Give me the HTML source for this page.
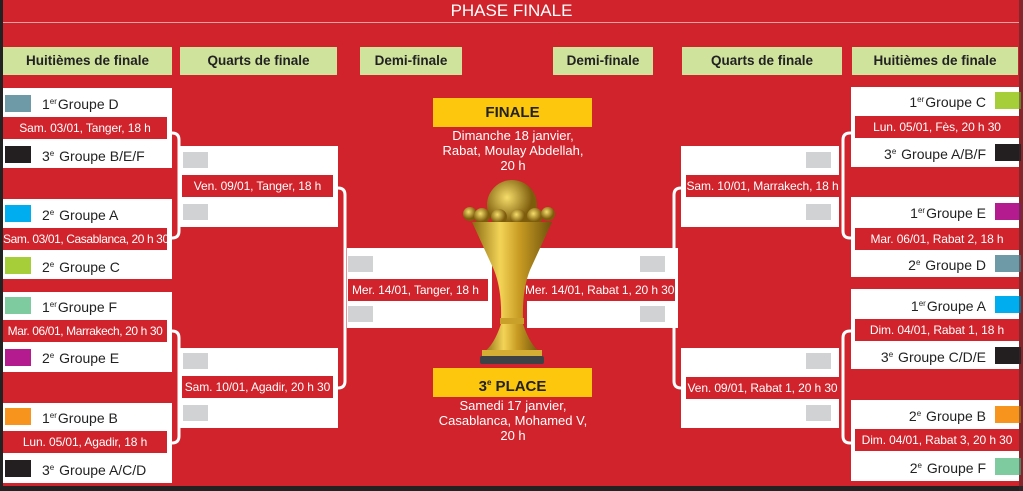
<!DOCTYPE html>
<html><head><meta charset="utf-8"><style>
*{margin:0;padding:0;box-sizing:border-box}
body{width:1023px;height:491px;background:#d0232b;position:relative;overflow:hidden;font-family:"Liberation Sans",sans-serif}
div{position:absolute}
.w{background:#fff}
.b{background:#d0232b;color:#fff;font-size:12px;letter-spacing:-0.1px;text-align:center;line-height:22px;white-space:nowrap;overflow:hidden}
.h{background:#cfe39d;color:#222;font-weight:bold;font-size:13.5px;text-align:center;line-height:28px}
.sq{width:26px;height:17px}
.g{background:#d1d2d4;width:25px;height:16px}
.t{font-size:14px;color:#222;line-height:18px;white-space:nowrap}
.t sup{font-size:8px;vertical-align:5px;margin-right:1px}
.y{background:#fdc70e;color:#222;font-weight:bold;font-size:15px;text-align:center;line-height:29px}
.c{color:#fff;font-size:13px;text-align:center;line-height:15px}
</style></head><body>
<div style="left:0;top:0;width:3px;height:491px;background:#222"></div>
<div style="left:0;top:486px;width:1023px;height:5px;background:#222"></div>
<div style="left:3px;top:22px;width:1016px;height:1px;background:#e8a0a0"></div>
<div style="left:0;top:1px;width:1023px;text-align:center;color:#fff;font-size:17px;line-height:20px">PHASE FINALE</div>

<div class="h" style="left:3px;top:47px;width:169px">Huitièmes de finale</div>
<div class="h" style="left:180px;top:47px;width:157px">Quarts de finale</div>
<div class="h" style="left:360px;top:47px;width:102px">Demi-finale</div>
<div class="h" style="left:553px;top:47px;width:100px">Demi-finale</div>
<div class="h" style="left:682px;top:47px;width:160px">Quarts de finale</div>
<div class="h" style="left:852px;top:47px;width:166px">Huitièmes de finale</div>

<svg style="position:absolute;left:0;top:0" width="1023" height="491" fill="none" stroke="#fff" stroke-width="3">
<path d="M167 133 H172 Q179 133 179 140 V231 Q179 238 172 238 H167"/>
<path d="M167 331 H172 Q179 331 179 338 V436 Q179 443 172 443 H167"/>
<path d="M333 188 H338 Q345 188 345 195 V381 Q345 388 338 388 H333"/>
<path d="M855 133 H850 Q843 133 843 140 V231 Q843 238 850 238 H855"/>
<path d="M855 331 H850 Q843 331 843 338 V436 Q843 443 850 443 H855"/>
<path d="M686 188 H681 Q674 188 674 195 V381 Q674 388 681 388 H686"/>
</svg>

<!-- Left R16 -->
<div class="w" style="left:3px;top:88px;width:169px;height:80px"></div>
<div class="sq" style="left:5px;top:95px;background:#6e9aa8"></div>
<div class="t" style="left:42px;top:93px">1<sup>er</sup>Groupe D</div>
<div class="b" style="left:3px;top:117px;width:164px">Sam. 03/01, Tanger, 18 h</div>
<div class="sq" style="left:5px;top:146px;background:#231f20"></div>
<div class="t" style="left:42px;top:145px">3<sup>e</sup> Groupe B/E/F</div>

<div class="w" style="left:3px;top:199px;width:169px;height:80px"></div>
<div class="sq" style="left:5px;top:205px;background:#00aeef"></div>
<div class="t" style="left:42px;top:204px">2<sup>e</sup> Groupe A</div>
<div class="b" style="left:3px;top:228px;width:164px;letter-spacing:-0.4px">Sam. 03/01, Casablanca, 20 h 30</div>
<div class="sq" style="left:5px;top:257px;background:#a6ce39"></div>
<div class="t" style="left:42px;top:256px">2<sup>e</sup> Groupe C</div>

<div class="w" style="left:3px;top:292px;width:169px;height:80px"></div>
<div class="sq" style="left:5px;top:297px;background:#7fcba0"></div>
<div class="t" style="left:42px;top:296px">1<sup>er</sup>Groupe F</div>
<div class="b" style="left:3px;top:320px;width:164px;letter-spacing:-0.4px">Mar. 06/01, Marrakech, 20 h 30</div>
<div class="sq" style="left:5px;top:349px;background:#b31b8e"></div>
<div class="t" style="left:42px;top:347px">2<sup>e</sup> Groupe E</div>

<div class="w" style="left:3px;top:403px;width:169px;height:80px"></div>
<div class="sq" style="left:5px;top:408px;background:#f7941d"></div>
<div class="t" style="left:42px;top:407px">1<sup>er</sup>Groupe B</div>
<div class="b" style="left:3px;top:431px;width:164px">Lun. 05/01, Agadir, 18 h</div>
<div class="sq" style="left:5px;top:460px;background:#231f20"></div>
<div class="t" style="left:42px;top:459px">3<sup>e</sup> Groupe A/C/D</div>

<!-- Left QF -->
<div class="w" style="left:180px;top:146px;width:158px;height:81px"></div>
<div class="g" style="left:183px;top:152px"></div>
<div class="b" style="left:182px;top:175px;width:151px">Ven. 09/01, Tanger, 18 h</div>
<div class="g" style="left:183px;top:204px"></div>
<div class="w" style="left:180px;top:348px;width:158px;height:80px"></div>
<div class="g" style="left:183px;top:353px"></div>
<div class="b" style="left:182px;top:376px;width:151px">Sam. 10/01, Agadir, 20 h 30</div>
<div class="g" style="left:183px;top:405px"></div>

<!-- SF -->
<div class="w" style="left:347px;top:248px;width:145px;height:80px"></div>
<div class="g" style="left:348px;top:256px"></div>
<div class="b" style="left:348px;top:279px;width:140px;text-align:left;padding-left:4px">Mer. 14/01, Tanger, 18 h</div>
<div class="g" style="left:348px;top:306px"></div>
<div class="w" style="left:527px;top:248px;width:151px;height:80px"></div>
<div class="g" style="left:640px;top:256px"></div>
<div class="b" style="left:525px;top:279px;width:150px;text-align:right;padding-right:4px">Mer. 14/01, Rabat 1, 20 h 30</div>
<div class="g" style="left:640px;top:306px"></div>

<!-- Right QF -->
<div class="w" style="left:681px;top:146px;width:158px;height:81px"></div>
<div class="g" style="left:806px;top:152px"></div>
<div class="b" style="left:686px;top:175px;width:153px">Sam. 10/01, Marrakech, 18 h</div>
<div class="g" style="left:806px;top:204px"></div>
<div class="w" style="left:681px;top:348px;width:158px;height:80px"></div>
<div class="g" style="left:806px;top:353px"></div>
<div class="b" style="left:686px;top:377px;width:153px">Ven. 09/01, Rabat 1, 20 h 30</div>
<div class="g" style="left:806px;top:405px"></div>

<!-- Right R16 -->
<div class="w" style="left:851px;top:87px;width:168px;height:80px"></div>
<div class="sq" style="left:995px;top:92px;background:#a6ce39"></div>
<div class="t" style="right:37px;top:91px">1<sup>er</sup>Groupe C</div>
<div class="b" style="left:855px;top:116px;width:164px">Lun. 05/01, Fès, 20 h 30</div>
<div class="sq" style="left:995px;top:144px;background:#231f20"></div>
<div class="t" style="right:37px;top:143px">3<sup>e</sup> Groupe A/B/F</div>

<div class="w" style="left:851px;top:197px;width:168px;height:80px"></div>
<div class="sq" style="left:995px;top:203px;background:#b31b8e"></div>
<div class="t" style="right:37px;top:202px">1<sup>er</sup>Groupe E</div>
<div class="b" style="left:855px;top:228px;width:164px">Mar. 06/01, Rabat 2, 18 h</div>
<div class="sq" style="left:995px;top:255px;background:#6e9aa8"></div>
<div class="t" style="right:37px;top:254px">2<sup>e</sup> Groupe D</div>

<div class="w" style="left:851px;top:289px;width:168px;height:80px"></div>
<div class="sq" style="left:995px;top:296px;background:#00aeef"></div>
<div class="t" style="right:37px;top:295px">1<sup>er</sup>Groupe A</div>
<div class="b" style="left:855px;top:319px;width:164px">Dim. 04/01, Rabat 1, 18 h</div>
<div class="sq" style="left:995px;top:347px;background:#231f20"></div>
<div class="t" style="right:37px;top:346px">3<sup>e</sup> Groupe C/D/E</div>

<div class="w" style="left:851px;top:400px;width:168px;height:81px"></div>
<div class="sq" style="left:995px;top:406px;background:#f7941d"></div>
<div class="t" style="right:37px;top:405px">2<sup>e</sup> Groupe B</div>
<div class="b" style="left:855px;top:429px;width:164px">Dim. 04/01, Rabat 3, 20 h 30</div>
<div class="sq" style="left:995px;top:458px;background:#7fcba0"></div>
<div class="t" style="right:37px;top:457px">2<sup>e</sup> Groupe F</div>
<div style="left:1019px;top:0;width:4px;height:491px;background:#3a2a2a;opacity:.5"></div>

<!-- Finale -->
<div class="y" style="left:433px;top:98px;width:159px;height:29px">FINALE</div>
<div class="c" style="left:413px;top:128px;width:200px">Dimanche 18 janvier,<br>Rabat, Moulay Abdellah,<br>20 h</div>
<div class="y" style="left:433px;top:368px;width:159px;height:29px">3<sup style="font-size:8px">e</sup> PLACE</div>
<div class="c" style="left:403px;top:398px;width:220px">Samedi 17 janvier,<br>Casablanca, Mohamed V,<br>20 h</div>

<svg style="position:absolute;left:460px;top:170px" width="100" height="195" viewBox="0 0 100 195">
<defs><linearGradient id="gd" x1="0" x2="1"><stop offset="0" stop-color="#8a6a10"/><stop offset=".35" stop-color="#f3d457"/><stop offset=".6" stop-color="#c79a22"/><stop offset="1" stop-color="#6e520c"/></linearGradient>
<radialGradient id="gb" cx=".4" cy=".35"><stop offset="0" stop-color="#f5dd6a"/><stop offset="1" stop-color="#7d5c0c"/></radialGradient></defs>
<circle cx="52" cy="35" r="25" fill="url(#gb)"/>
<circle cx="10" cy="44" r="7" fill="url(#gb)"/><circle cx="22" cy="46" r="8" fill="url(#gb)"/><circle cx="39" cy="47" r="8" fill="url(#gb)"/><circle cx="58" cy="47" r="8" fill="url(#gb)"/><circle cx="75" cy="46" r="8" fill="url(#gb)"/><circle cx="88" cy="44" r="7" fill="url(#gb)"/>
<path d="M12 52 H92 L70 100 Q62 120 63 150 H41 Q42 120 34 100 Z" fill="url(#gd)"/>
<rect x="40" y="148" width="24" height="6" fill="#c9a02a"/>
<path d="M41 154 H63 Q70 175 80 182 H24 Q34 175 41 154 Z" fill="url(#gd)"/>
<rect x="22" y="180" width="60" height="6" fill="#d4ad35"/>
<rect x="20" y="186" width="64" height="8" rx="2" fill="#3d4246"/>
</svg>
</body></html>
